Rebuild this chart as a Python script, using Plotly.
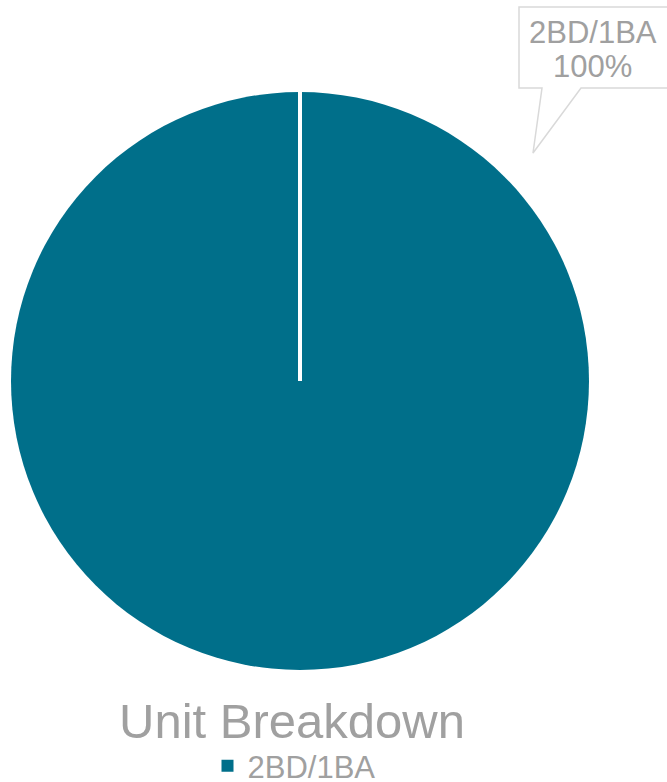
import plotly.graph_objects as go

# ---- data ----
labels = ["2BD/1BA"]
values = [100]
colors = ["#006F8A"]
title_text = "Unit Breakdown"
callout_label = "2BD/1BA"
callout_pct = "100%"

W, H = 667, 782
GRAY = "#A0A0A0"
FONT = "Liberation Sans, Arial, sans-serif"

def px(x):
    return x / W

def py(y):
    return 1 - y / H

# pie domain (pixels)
pl, pr, pt, pb = 11, 589, 92, 670
dom_x = [px(pl), px(pr)]
dom_y = [py(pb), py(pt)]

fig = go.Figure()
fig.add_trace(go.Pie(
    labels=labels, values=values, sort=False, direction="clockwise",
    marker=dict(colors=colors, line=dict(color="white", width=0)),
    textinfo="none", hoverinfo="label+percent",
    domain=dict(x=dom_x, y=dom_y), showlegend=True,
))

# slice boundary line (center to top) derived from pie domain
cx = (dom_x[0] + dom_x[1]) / 2
cy = (dom_y[0] + dom_y[1]) / 2
fig.add_shape(type="line", xref="paper", yref="paper",
              x0=cx, y0=cy, x1=cx, y1=dom_y[1],
              line=dict(color="white", width=4))

# callout box with tail
pts = [(680, 7), (519, 7), (519, 88), (542, 88), (533, 153), (581, 88), (680, 88)]
path = "M " + " L ".join(f"{px(x)},{py(y)}" for x, y in pts)
fig.add_shape(type="path", xref="paper", yref="paper", path=path,
              fillcolor="white", line=dict(color="#D9D9D9", width=1.5))
fig.add_annotation(x=px(592.5), y=py(32), xref="paper", yref="paper",
                   text=callout_label, showarrow=False, xanchor="center", yanchor="middle",
                   font=dict(family=FONT, size=31, color=GRAY))
fig.add_annotation(x=px(592.5), y=py(67), xref="paper", yref="paper",
                   text=callout_pct, showarrow=False, xanchor="center", yanchor="middle",
                   font=dict(family=FONT, size=31, color=GRAY))

# title
fig.add_annotation(x=px(291.5), y=py(721), xref="paper", yref="paper",
                   text=title_text, showarrow=False, xanchor="center", yanchor="middle",
                   font=dict(family=FONT, size=49, color=GRAY))

fig.update_layout(
    width=W, height=H,
    margin=dict(l=0, r=0, t=0, b=0, autoexpand=False),
    paper_bgcolor="white", plot_bgcolor="white",
    legend=dict(orientation="h", x=px(294), xanchor="center", y=py(766), yanchor="middle",
                font=dict(family=FONT, size=31, color=GRAY),
                itemwidth=30, bgcolor="rgba(0,0,0,0)", borderwidth=0),
)

fig.write_html("out.html", config={"displayModeBar": False},
               post_script="document.body.style.margin='0';document.body.style.overflow='hidden';")
